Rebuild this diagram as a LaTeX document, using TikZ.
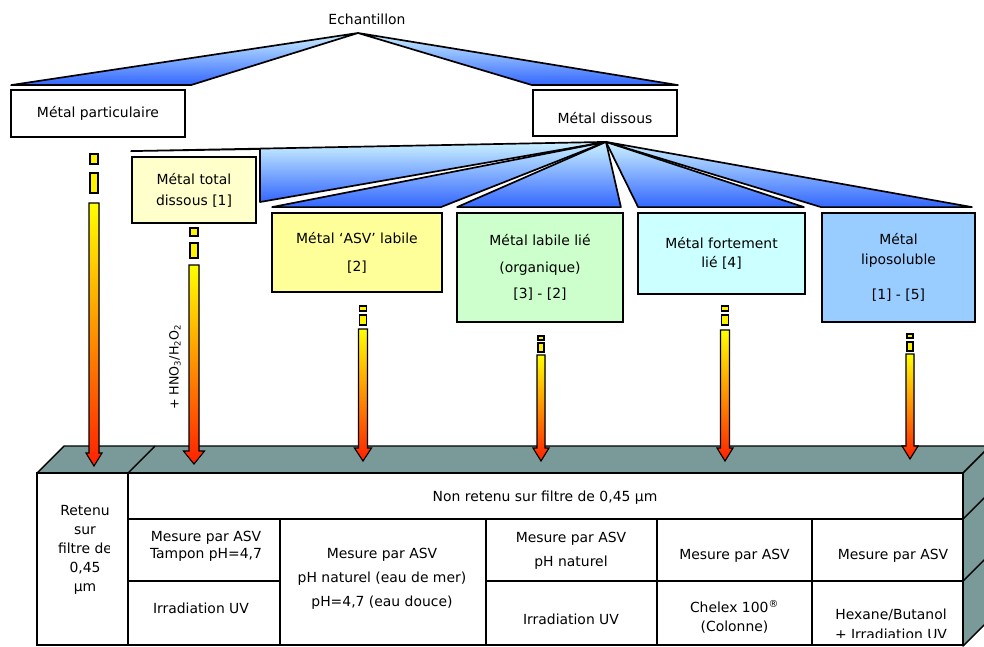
\documentclass[tikz,border=0pt]{standalone}
\usepackage{fontspec}
\setmainfont{DejaVu Sans}
\usetikzlibrary{calc,positioning}
\definecolor{grisbleu}{RGB}{122,154,154}
\definecolor{cielclair}{RGB}{204,242,255}
\definecolor{bleufonce}{RGB}{51,102,255}
\definecolor{jaunepale}{RGB}{255,255,204}
\definecolor{jauneclair}{RGB}{255,255,153}
\definecolor{vertpale}{RGB}{204,255,204}
\definecolor{cyanpale}{RGB}{204,255,255}
\definecolor{bleupale}{RGB}{153,204,255}
\definecolor{rouge}{RGB}{255,32,0}

\begin{document}
\begin{tikzpicture}[x=0.025cm,y=-0.025cm,font=\fontsize{9.9}{12}\selectfont,
  boite/.style 2 args={draw,line width=1.3pt,minimum width=#1*0.025cm,minimum height=#2*0.025cm,inner sep=0pt},
  eventail/.style={draw,line width=1.2pt,line join=round,top color=cielclair,bottom color=bleufonce},
  fleche/.style={draw,line width=0.8pt,top color=yellow,bottom color=rouge},
  bout/.style={draw,line width=0.8pt,fill=yellow},
  trait/.style={line width=1pt},
  face/.style={draw,line width=1pt,line join=round,fill=grisbleu}]

\useasboundingbox (0,0) rectangle (984,646);

% niveau 1
\node (echant) at (367,19) {Echantillon};
\node[boite={174}{47}] (part) at (98,113.5) {Métal particulaire};
\node[boite={144}{46},text height=15pt] (diss) at (605,113) {Métal dissous};

\coordinate (sommet) at (358,33);
\filldraw[eventail] (sommet) -- ($(part.north west)+(1,-4)$) -- ($(part.north east)+(5,-4)$) -- cycle;
\filldraw[eventail] (sommet) -- ($(diss.north west)+(0,-4)$) -- ($(diss.north east)+(0,-4)$) -- cycle;

% niveau 2
\node[boite={124}{66},fill=jaunepale,align=center] (totdis) at (194,190) {Métal total\\[3pt]dissous [1]};
\node[boite={170}{79},fill=jauneclair,align=center] (asv) at (357,252.5) {Métal `ASV' labile\\[8pt][2]};
\node[boite={166}{109},fill=vertpale,align=center] (labile) at (540,267.5) {Métal labile lié\\[7pt](organique)\\[7pt][3] - [2]};
\node[boite={167}{81},fill=cyanpale,align=center] (fort) at (721.5,253.5) {Métal fortement\\[1.5pt]lié [4]};
\node[boite={153}{109},fill=bleupale,align=center] (lipo) at (898.5,267.5) {Métal\\[2pt]liposoluble\\[13pt][1] - [5]};

\coordinate (sommet2) at ($(diss.south)+(1,5)$);
\filldraw[eventail] (sommet2) -- ($(totdis.north west)+(0,-5)$) -- (260,149) -- (260,202) -- cycle;
\filldraw[eventail] (sommet2) -- ($(asv.north west)+(1,-5)$) -- ($(asv.north east)+(-2,-5)$) -- cycle;
\filldraw[eventail] (sommet2) -- ($(labile.north west)+(1,-5)$) -- ($(labile.north east)+(-3,-5)$) -- cycle;
\filldraw[eventail] (sommet2) -- ($(fort.north west)+(1,-5)$) -- ($(fort.north east)+(-2,-5)$) -- cycle;
\filldraw[eventail] (sommet2) -- ($(lipo.north west)+(0,-5)$) -- ($(lipo.north east)+(-4,-5)$) -- cycle;

% bloc du bas
\filldraw[face] (37,473) -- (64,446) -- (990,446) -- (963,473) -- cycle;
\filldraw[face] (963,473) -- (990,446) -- (990,619) -- (963,646) -- cycle;
\draw[trait] (128,473) -- (155,446);
\draw[trait] (963,519) -- (990,492) (963,581) -- (990,554);
\draw[trait,fill=white] (37,473) rectangle (963,645);
\draw[trait] (128,473) -- (128,645);
\draw[trait] (128,519) -- (963,519);
\draw[trait] (128,581) -- (280,581) (486,581) -- (963,581);
\foreach \c in {280,486,657,812}
  \draw[trait] (\c,519) -- (\c,645);

\begin{scope}
\clip (40,476) rectangle (109,642);
\node[align=center,font=\fontsize{9.9}{13.5}\selectfont] (retenu) at (85,550) {Retenu\\sur\\filtre de\\0,45\\µm};
\end{scope}
\node (nonret) at (545,498) {Non retenu sur filtre de 0,45 µm};
\node[align=center,font=\fontsize{9.9}{12}\selectfont] (c1a) at (206,546) {Mesure par ASV\\Tampon pH=4,7};
\node (c1b) at (201,608) {Irradiation UV};
\node[align=center,font=\fontsize{9.9}{17}\selectfont] (c2) at (382,579) {Mesure par ASV\\pH naturel (eau de mer)\\pH=4,7 (eau douce)};
\node[align=center,font=\fontsize{9.9}{17}\selectfont] (c3a) at (571,551) {Mesure par ASV\\pH naturel};
\node (c3b) at (571,619) {Irradiation UV};
\node (c4a) at (734.5,556) {Mesure par ASV};
\node[align=center,font=\fontsize{9.9}{13.5}\selectfont] (c4b) at (734.5,617) {Chelex 100\textsuperscript{®}\\(Colonne)};
\node (c5a) at (893,556) {Mesure par ASV};
\begin{scope}
\clip (813,582) rectangle (962,637);
\node[align=center,font=\fontsize{9.9}{14}\selectfont] (c5b) at (891,624) {Hexane/Butanol\\+ Irradiation UV};
\end{scope}

% fleches
\node[rotate=90,font=\fontsize{9}{11}\selectfont] (acide) at (175,367) {+ HNO\textsubscript{3}/H\textsubscript{2}O\textsubscript{2}};
\foreach \x/\a/\b/\c/\d/\e/\t/\h/\s in {94/154/164/173/193/203/466/8/5,
    194/228/236/243/258/265/464/10.5/5, 363/306/311/315/325/329/461/8.5/4.5,
    541/336/340/343/352/355/461/8/4, 725/306/311/315/325/330/461/8/4.5,
    910/334/338/342/351/354/459/8/4}
{
  \filldraw[bout] (\x-\s+1,\a) rectangle (\x+\s-1,\b);
  \filldraw[bout] (\x-\s+1,\c) rectangle (\x+\s-1,\d);
  \filldraw[fleche] (\x-\s,\e) -- (\x+\s,\e) -- (\x+\s,\t-13) -- (\x+\h,\t-13)
    -- (\x,\t) -- (\x-\h,\t-13) -- (\x-\s,\t-13) -- cycle;
}

\end{tikzpicture}
\end{document}
